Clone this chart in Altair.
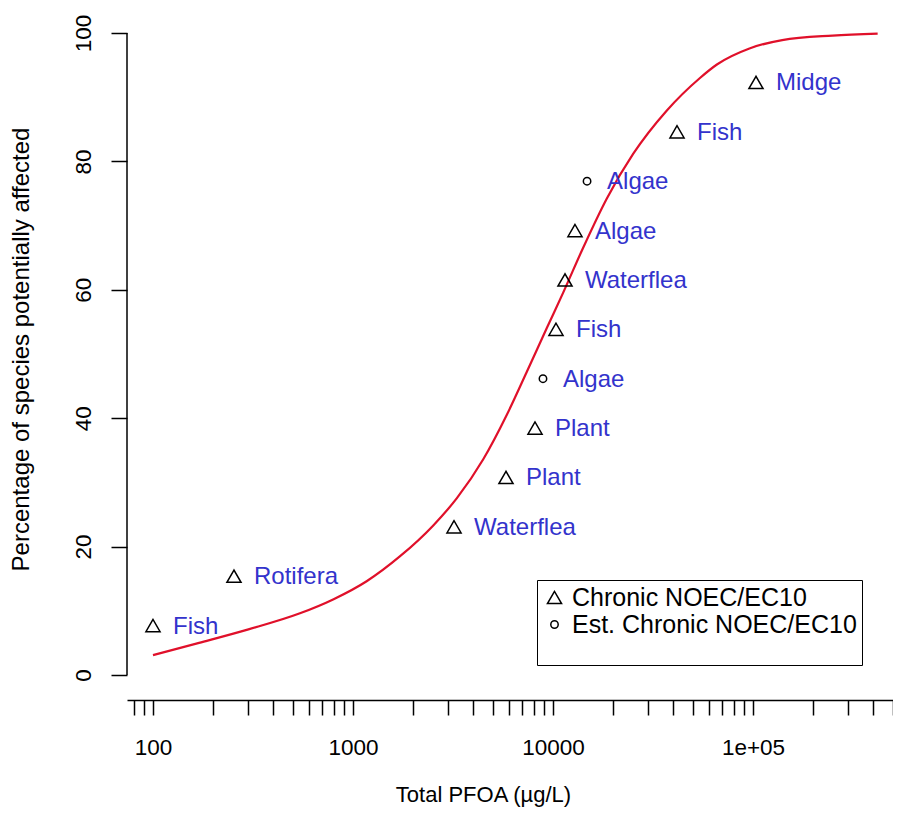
import altair as alt
import pandas as pd

# ---- data ----
species = ["Fish", "Rotifera", "Waterflea", "Plant", "Plant", "Algae",
           "Fish", "Waterflea", "Algae", "Algae", "Fish", "Midge"]
conc = [100, 254, 3200, 5820, 8130, 8910, 10350, 11480, 12880, 14800, 41700, 103500]
pct = [7.69, 15.38, 23.08, 30.77, 38.46, 46.15, 53.85, 61.54, 69.23, 76.92, 84.62, 92.31]
kind = ["Chronic NOEC/EC10", "Chronic NOEC/EC10", "Chronic NOEC/EC10", "Chronic NOEC/EC10",
        "Chronic NOEC/EC10", "Est. Chronic NOEC/EC10", "Chronic NOEC/EC10", "Chronic NOEC/EC10",
        "Chronic NOEC/EC10", "Est. Chronic NOEC/EC10", "Chronic NOEC/EC10", "Chronic NOEC/EC10"]

curve_x = [100, 170, 300, 543, 800, 1170, 1720, 2520, 3300, 4480, 5870, 7390,
           9300, 11260, 14170, 18560, 25200, 37000, 54300, 66000, 96000,
           140000, 250000, 420000]
curve_y = [3.1, 5.0, 7.1, 9.6, 11.8, 14.6, 18.5, 23.3, 27.5, 33.6, 40.5, 47.2,
           54.0, 59.6, 66.6, 74.2, 81.2, 87.9, 93.0, 95.1, 97.6,
           98.9, 99.6, 99.9]

x_ticks = [80, 90, 100, 200, 300, 400, 500, 600, 700, 800, 900,
           1000, 2000, 3000, 4000, 5000, 6000, 7000, 8000, 9000,
           10000, 20000, 30000, 40000, 50000, 60000, 70000, 80000, 90000,
           100000, 200000, 300000, 400000, 500000]
x_major = [100, 1000, 10000, 100000]
x_major_text = ["100", "1000", "10000", "1e+05"]
y_ticks = [0, 20, 40, 60, 80, 100]

kinds = ["Chronic NOEC/EC10", "Est. Chronic NOEC/EC10"]

pts = pd.DataFrame({"species": species, "conc": conc, "pct": pct, "kind": kind})
curve = pd.DataFrame({"conc": curve_x, "pct": curve_y})
yline = pd.DataFrame({"y": [y_ticks[0]], "y2": [y_ticks[-1]]})

FONT = "Liberation Sans"
label_expr = " : ".join(
    f"datum.value == {v} ? '{t}'" for v, t in zip(x_major, x_major_text)) + " : ''"

xscale = alt.Scale(type="log", domain=[74.13, 501187], nice=False, zero=False)
yscale = alt.Scale(domain=[-3.9, 103.9], nice=False, zero=False)

xaxis = alt.Axis(values=x_ticks, labelExpr=label_expr, grid=False,
                 domainColor="black", domainWidth=1.5, tickColor="black",
                 tickWidth=1.5, tickSize=15, labelFont=FONT, labelFontSize=22.5,
                 labelColor="black", labelPadding=39, labelBaseline="alphabetic",
                 labelAlign="center", labelOverlap=False, labelFlush=False,
                 labelBound=False,
                 title="Total PFOA (µg/L)", titleFont=FONT, titleFontSize=22,
                 titleFontWeight="normal", titleColor="black", titleX=356,
                 titleY=101, titleAlign="center", titleBaseline="alphabetic")

yaxis = alt.Axis(values=y_ticks, grid=False, domain=False, tickColor="black",
                 tickWidth=1.5, tickSize=16, labelFont=FONT, labelFontSize=22.5,
                 labelColor="black", labelAngle=270, labelAlign="center",
                 labelBaseline="alphabetic", labelPadding=21, labelOverlap=False,
                 labelFlush=False,
                 title="Percentage of species potentially affected",
                 titleFont=FONT, titleFontSize=24, titleFontWeight="normal",
                 titleColor="black", titleAngle=270, titleX=-99, titleY=341,
                 titleAlign="center", titleBaseline="alphabetic")

X = alt.X("conc:Q", scale=xscale, axis=xaxis)
Y = alt.Y("pct:Q", scale=yscale, axis=yaxis)

line = alt.Chart(curve).mark_line(color="#E0102A", strokeWidth=2.2, clip=True,
                                  interpolate="monotone").encode(x=X, y=Y)

axis_line = alt.Chart(yline).mark_rule(color="black", strokeWidth=1.5).encode(
    x=alt.value(0), y=alt.Y("y:Q", scale=yscale, axis=yaxis), y2="y2:Q")

legend = alt.Legend(title=" ", titleOrient="bottom", titleFontSize=14, titlePadding=8,
                    orient="none", legendX=410, legendY=572,
                    strokeColor="black", fillColor="white", padding=5,
                    labelFont=FONT, labelFontSize=25, labelColor="black",
                    labelExpr="datum.label + ' '",
                    symbolStrokeColor="black", symbolStrokeWidth=1.5,
                    symbolFillColor="transparent", labelOffset=5, rowPadding=1,
                    cornerRadius=0, labelLimit=400)

points = alt.Chart(pts).mark_point(filled=False, color="black", strokeWidth=1.5,
                                   opacity=1).encode(
    x=X, y=Y,
    shape=alt.Shape("kind:N", scale=alt.Scale(domain=kinds, range=["triangle-up", "circle"]),
                    legend=legend),
    size=alt.Size("kind:N", scale=alt.Scale(domain=kinds, range=[200, 55]), legend=legend),
)

labels = alt.Chart(pts).mark_text(align="left", baseline="middle", dx=20, dy=1,
                                  fontSize=24, font=FONT, color="#3333CC").encode(
    x=X, y=Y, text="species:N")

chart = alt.layer(axis_line, line, points, labels).properties(
    width=766, height=692,
    autosize=alt.AutoSizeParams(type="none"),
    padding={"left": 119, "top": 0, "right": 0, "bottom": 108},
    background="white",
).configure_view(stroke=None)

chart.save("out.html", embed_options={"renderer": "svg", "actions": False})
